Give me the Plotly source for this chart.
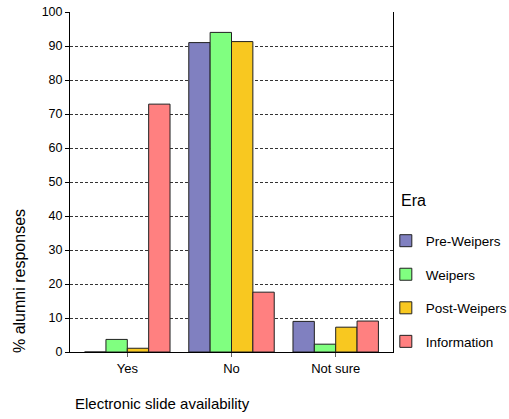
import plotly.graph_objects as go

categories = ["Yes", "No", "Not sure"]
era_names = ["Pre-Weipers", "Weipers", "Post-Weipers", "Information"]
pre_weipers = [0, 91, 9]
weipers = [3.7, 94, 2.3]
post_weipers = [1.1, 91.3, 7.3]
information = [72.9, 17.6, 9.1]
colors = ["#8080C0", "#80FF80", "#F8C820", "#FF8080"]
y_ticks = [0, 10, 20, 30, 40, 50, 60, 70, 80, 90, 100]

series = [pre_weipers, weipers, post_weipers, information]

fig = go.Figure()
for i, (name, vals) in enumerate(zip(era_names, series)):
    fig.add_trace(go.Bar(
        x=categories, y=vals, name=name, legendgroup=name,
        marker=dict(color=colors[i], line=dict(color="#202020", width=1)),
    ))

fig.update_layout(
    width=509, height=419,
    margin=dict(l=70, r=116, t=12, b=67, autoexpand=False),
    paper_bgcolor="white", plot_bgcolor="white",
    font=dict(family="Liberation Sans, Arial, sans-serif", size=12.5, color="black"),
    barmode="group", bargap=0.18, bargroupgap=0,
    showlegend=True,
    legend=dict(
        xref="container", yref="container",
        x=0.758, xanchor="left", y=0.462, yanchor="top",
        tracegroupgap=13, font=dict(size=13.5),
        bgcolor="rgba(0,0,0,0)",
    ),
    xaxis=dict(
        range=[-0.55, 2.55], showline=True, linecolor="black", linewidth=1,
        ticks="outside", ticklen=4, tickcolor="#666666",
        tickfont=dict(size=13),
        showgrid=False, zeroline=False, automargin=False,
    ),
    yaxis=dict(
        range=[0, 100], tickvals=y_ticks, showline=True, mirror=True,
        linecolor="black", linewidth=1,
        ticks="outside", ticklen=4, tickcolor="black",
        showgrid=True, gridcolor="#333333", griddash="3px,2px", gridwidth=1,
        zeroline=False, automargin=False,
    ),
    annotations=[
        dict(text="Electronic slide availability", xref="paper", yref="paper",
             x=(162 - 70) / 323, y=-(404 - 352) / 340, xanchor="center", yanchor="middle",
             showarrow=False, font=dict(size=15)),
        dict(text="% alumni responses", xref="paper", yref="paper",
             x=-(70 - 19) / 323, y=(352 - 281) / 340, xanchor="center", yanchor="middle",
             textangle=-90, showarrow=False, font=dict(size=16)),
        dict(text="Era", xref="paper", yref="paper",
             x=(399 - 70) / 323, y=(352 - 200) / 340, xanchor="left", yanchor="middle",
             showarrow=False, font=dict(size=16)),
    ],
)

fig.write_html("out.html", config={"displayModeBar": False},
               post_script="document.body.style.margin='0';")
